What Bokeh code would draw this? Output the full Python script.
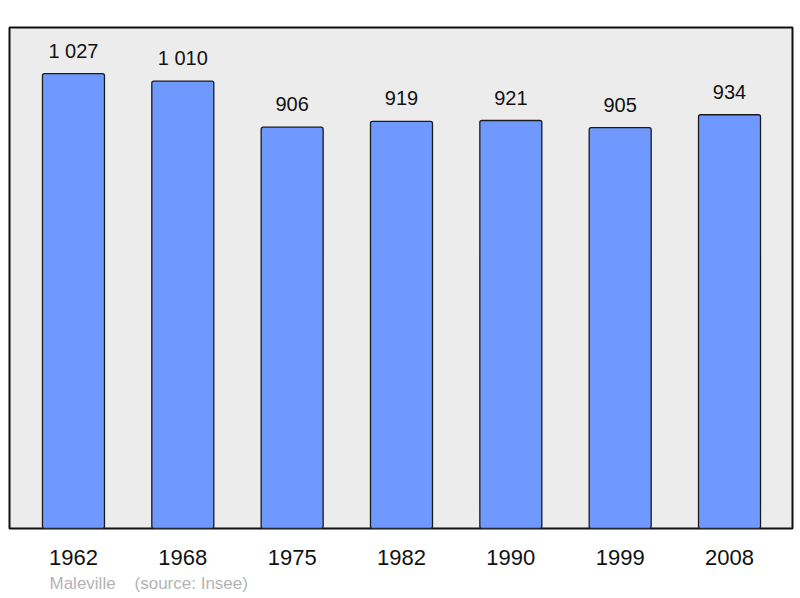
from bokeh.plotting import figure
from bokeh.models import ColumnDataSource, Range1d, FixedTicker, Title
from bokeh.core.properties import value
from bokeh.embed import file_html
from bokeh.resources import INLINE

years = ["1962", "1968", "1975", "1982", "1990", "1999", "2008"]
population = [1027, 1010, 906, 919, 921, 905, 934]
value_labels = ["1 027", "1 010", "906", "919", "921", "905", "934"]
commune = "Maleville"
source_note = "(source: Insee)"

idx = list(range(len(years)))
src = ColumnDataSource(dict(x=idx, top=population, lab=value_labels))

p = figure(width=800, height=598, output_backend="svg", toolbar_location=None,
           x_range=Range1d(-0.585, 6.576), y_range=Range1d(0, 1131),
           min_border_left=9, min_border_right=8, min_border_top=27, min_border_bottom=70)

p.background_fill_color = "#ececec"
p.border_fill_color = "white"
p.outline_line_color = "#111111"
p.outline_line_width = 2
p.grid.visible = False
p.yaxis.visible = False

p.vbar(x="x", top="top", bottom=0, width=0.567, source=src,
       fill_color="#7099ff", line_color="#1a1a1a", line_width=1.3, border_radius=2)

p.text(x="x", y="top", text="lab", source=src, text_align="center",
       text_baseline="alphabetic", y_offset=-23, text_font_size="20px",
       text_font=value("Liberation Sans"), text_color="#111111")

ax = p.xaxis[0]
ax.ticker = FixedTicker(ticks=idx)
ax.major_label_overrides = {i: y for i, y in zip(idx, years)}
ax.axis_line_color = None
ax.major_tick_line_color = None
ax.minor_tick_line_color = None
ax.major_tick_in = 0
ax.major_tick_out = 0
ax.major_label_standoff = 21
ax.major_label_text_font_size = "22px"
ax.major_label_text_font = "Liberation Sans"
ax.major_label_text_color = "#111111"

note = commune + "\u00a0" * 4 + source_note
p.add_layout(Title(text=note, align="left", offset=40, standoff=8,
                   text_font_size="17px", text_font="Liberation Sans",
                   text_font_style="normal", text_color="#b3b3b3"), "below")

open("out.html", "w").write(file_html(p, INLINE))
